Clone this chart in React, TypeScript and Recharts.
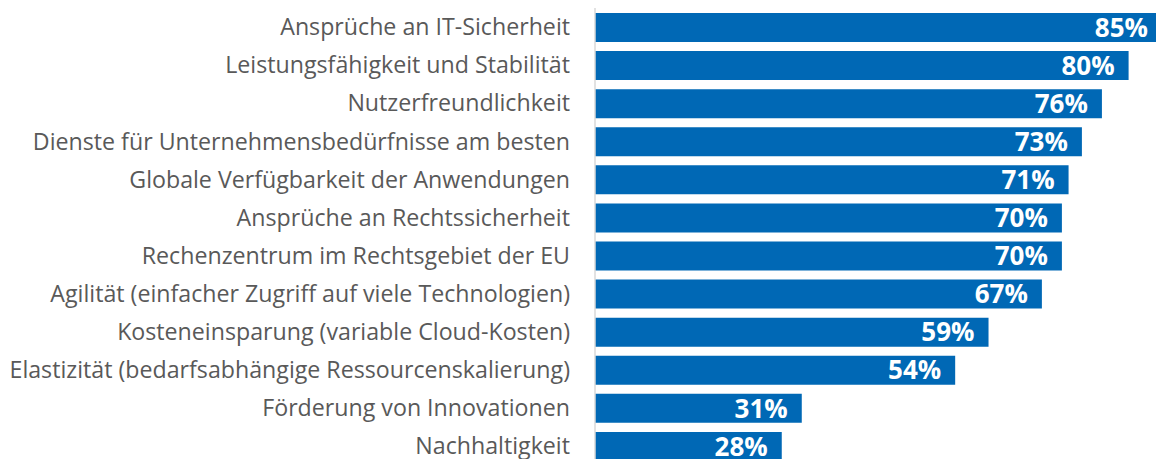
import { BarChart, Bar, XAxis, YAxis, LabelList } from "recharts";

const categories = [
  "Ansprüche an IT-Sicherheit",
  "Leistungsfähigkeit und Stabilität",
  "Nutzerfreundlichkeit",
  "Dienste für Unternehmensbedürfnisse am besten",
  "Globale Verfügbarkeit der Anwendungen",
  "Ansprüche an Rechtssicherheit",
  "Rechenzentrum im Rechtsgebiet der EU",
  "Agilität (einfacher Zugriff auf viele Technologien)",
  "Kosteneinsparung (variable Cloud-Kosten)",
  "Elastizität (bedarfsabhängige Ressourcenskalierung)",
  "Förderung von Innovationen",
  "Nachhaltigkeit",
];

const shares = [85, 80, 76, 73, 71, 70, 70, 67, 59, 54, 31, 28];

const data = categories.map((name, i) => ({ name, value: shares[i] }));

const font = "'Open Sans', sans-serif";

export default function App() {
  return (
    <div style={{ width: 1156, height: 459, overflow: "hidden", background: "#fff" }}>
      <style>{"body{margin:0}"}</style>
      <BarChart
        width={1262}
        height={465}
        data={data}
        layout="vertical"
        margin={{ top: 8, right: 0, bottom: 0, left: 0 }}
      >
        <XAxis type="number" domain={[0, 100]} hide />
        <YAxis
          type="category"
          dataKey="name"
          width={595}
          interval={0}
          tickLine={false}
          tickSize={0}
          tickMargin={25}
          axisLine={{ stroke: "#D9D9D9", strokeWidth: 1.5 }}
          tick={{ fill: "#595959", fontSize: 23.2, fontFamily: font }}
        />
        <Bar dataKey="value" fill="#0068B5" barSize={29} isAnimationActive={false}>
          <LabelList
            dataKey="value"
            position="insideRight"
            offset={14}
            formatter={(v: number) => `${v}%`}
            fill="#fff"
            style={{ fontSize: 26, fontWeight: 700, fontFamily: font }}
          />
        </Bar>
      </BarChart>
    </div>
  );
}
